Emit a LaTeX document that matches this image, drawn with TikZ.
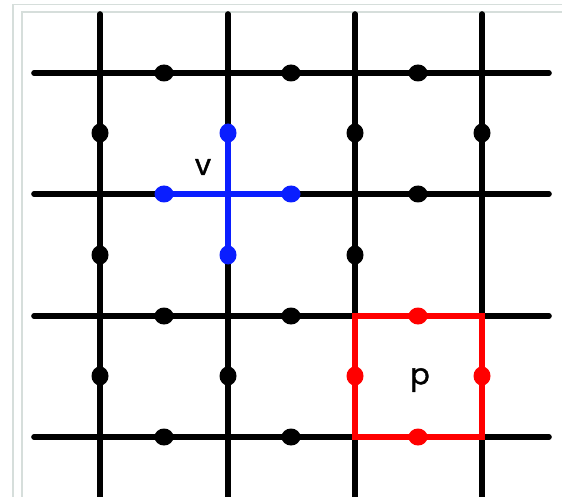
\documentclass[tikz,border=0pt]{standalone}
\usepackage{fontspec}
\setmainfont{Poppins}
\newfontfamily\lblfont[FakeBold=1.2]{Poppins}
\begin{document}
\begin{tikzpicture}[x=1pt,y=-1pt,
  gridline/.style={line width=5.6pt,line cap=round,black},
  frameline/.style={line width=1.3pt,color=framegray},
  lbl/.style={font=\lblfont\fontsize{29}{29}\selectfont,inner sep=0pt}]
\definecolor{framegray}{HTML}{D6DEDB}
\definecolor{myred}{HTML}{FF0000}
\definecolor{myblue}{HTML}{0A1EFF}
\useasboundingbox (0,0) rectangle (562,497);
\fill[white] (0,0) rectangle (562,497);
% frame
\draw[frameline] (13,497) -- (13,4.5) -- (562,4.5);
\draw[frameline] (22,497) -- (22,12) -- (562,12);
% vertical lines
\foreach \x in {100,228,355,482}{\draw[gridline] (\x,14) -- (\x,500);}
% horizontal lines
\foreach \y in {73,194,316,437}{\draw[gridline] (34,\y) -- (549,\y);}
% black dots on horizontal edges
\foreach \x/\y in {164/73,291/73,418/73,418/194,164/316,291/316,164/437,291/437}
  {\fill[black] (\x,\y) ellipse (9.5 and 8.5);}
% black dots on vertical edges
\foreach \x/\y in {100/133,355/133,482/133,100/255,355/255,100/376,228/376}
  {\fill[black] (\x,\y) ellipse (8.5 and 9.5);}
% blue star
\draw[gridline,myblue,line cap=butt] (164,194) -- (291,194);
\draw[gridline,myblue,line cap=butt] (228,133) -- (228,255);
\fill[myblue] (164,194) ellipse (9.5 and 8.5);
\fill[myblue] (291,194) ellipse (9.5 and 8.5);
\fill[myblue] (228,133) ellipse (8.5 and 9.5);
\fill[myblue] (228,255) ellipse (8.5 and 9.5);
\node[lbl] (v) at (203,167) {v};
% red plaquette
\draw[gridline,myred,line cap=butt,line join=miter] (355,316) rectangle (482,437);
\fill[myred] (418,316) ellipse (9.5 and 8.5);
\fill[myred] (418,437) ellipse (9.5 and 8.5);
\fill[myred] (355,376) ellipse (8.5 and 9.5);
\fill[myred] (482,376) ellipse (8.5 and 9.5);
\node[lbl] (p) at (420,380) {p};
\end{tikzpicture}
\end{document}
